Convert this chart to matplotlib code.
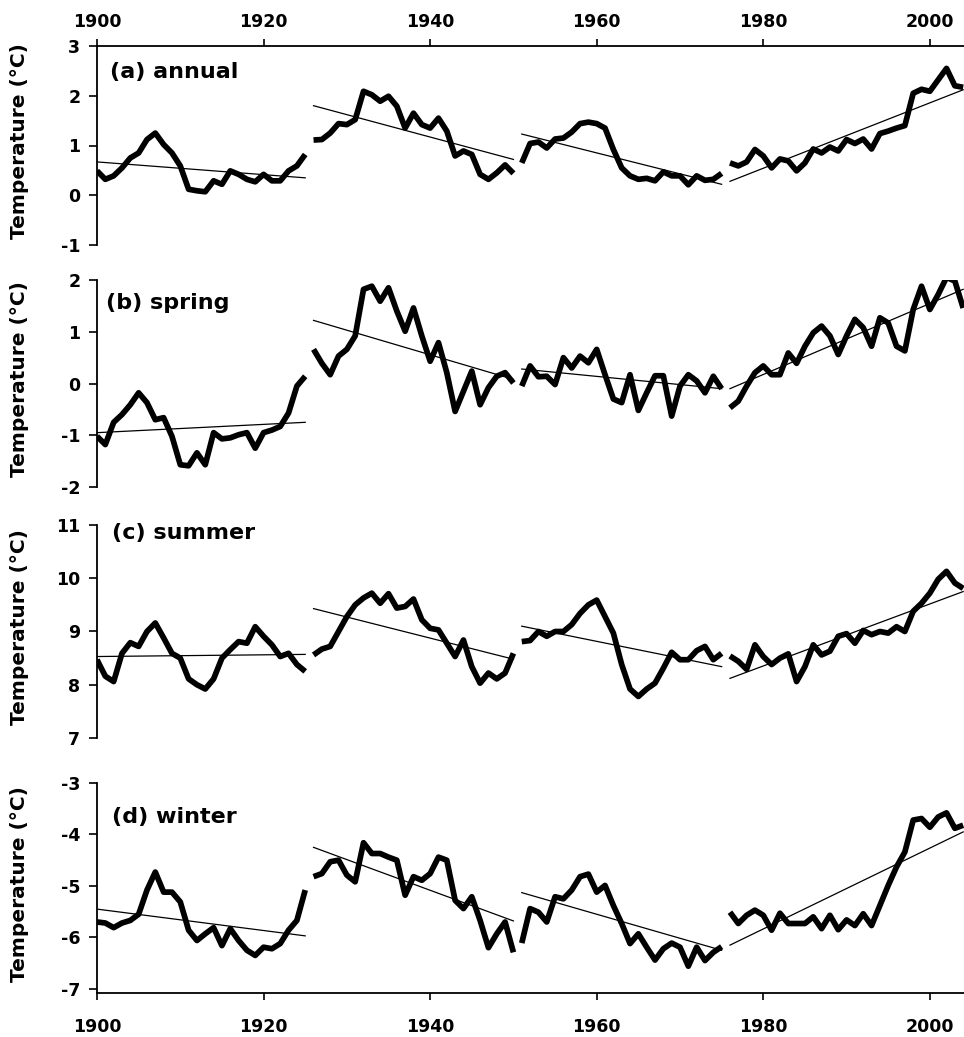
import numpy as np
import matplotlib
matplotlib.use("Agg")
import matplotlib.pyplot as plt

plt.rcParams['font.family'] = ['DejaVu Sans']
plt.rcParams['font.weight'] = 'bold'
plt.rcParams['axes.unicode_minus'] = False

years = np.arange(1900, 2005)
segments = [(1900, 1925), (1926, 1950), (1951, 1975), (1976, 2004)]

annual = [0.49, 0.32, 0.39, 0.55, 0.75, 0.85, 1.12, 1.25, 1.02, 0.85, 0.59, 0.12, 0.09, 0.07, 0.29, 0.22,
          0.49, 0.42, 0.32, 0.27, 0.42, 0.29, 0.29, 0.49, 0.59, 0.82,
          1.11, 1.12, 1.25, 1.44, 1.42, 1.52, 2.09, 2.02, 1.89, 1.99, 1.79, 1.35, 1.65, 1.42, 1.35, 1.55,
          1.29, 0.79, 0.89, 0.82, 0.42, 0.32, 0.45, 0.61, 0.44,
          0.65, 1.04, 1.07, 0.95, 1.13, 1.15, 1.27, 1.44, 1.47, 1.44, 1.35, 0.92, 0.55, 0.39, 0.32, 0.34,
          0.29, 0.47, 0.39, 0.39, 0.21, 0.39, 0.30, 0.32, 0.44,
          0.65, 0.59, 0.67, 0.92, 0.79, 0.55, 0.73, 0.69, 0.49, 0.65, 0.93, 0.85, 0.97, 0.89, 1.12, 1.04,
          1.13, 0.93, 1.24, 1.29, 1.35, 1.40, 2.05, 2.13, 2.09, 2.32, 2.55, 2.20, 2.17]

spring = [-1.02, -1.18, -0.75, -0.60, -0.41, -0.18, -0.37, -0.70, -0.66, -1.02, -1.57, -1.59, -1.34, -1.57,
          -0.95, -1.07, -1.05, -0.99, -0.95, -1.25, -0.95, -0.90, -0.83, -0.57, -0.05, 0.14,
          0.66, 0.39, 0.17, 0.53, 0.66, 0.92, 1.82, 1.88, 1.59, 1.85, 1.40, 1.01, 1.46, 0.92, 0.43, 0.79,
          0.21, -0.54, -0.15, 0.24, -0.41, -0.08, 0.14, 0.21, 0.01,
          -0.05, 0.34, 0.13, 0.14, -0.02, 0.50, 0.30, 0.53, 0.40, 0.66, 0.17, -0.30, -0.37, 0.17, -0.52,
          -0.18, 0.15, 0.15, -0.63, -0.05, 0.17, 0.05, -0.18, 0.14, -0.10,
          -0.47, -0.34, -0.05, 0.21, 0.34, 0.17, 0.17, 0.59, 0.39, 0.72, 0.98, 1.11, 0.92, 0.56, 0.92, 1.24,
          1.08, 0.72, 1.27, 1.17, 0.72, 0.63, 1.43, 1.88, 1.43, 1.72, 2.05, 1.98, 1.46]

summer = [8.47, 8.16, 8.06, 8.59, 8.79, 8.72, 9.00, 9.16, 8.88, 8.59, 8.50, 8.11, 8.00, 7.92, 8.11, 8.50,
          8.66, 8.81, 8.78, 9.09, 8.91, 8.75, 8.53, 8.59, 8.38, 8.25,
          8.56, 8.67, 8.72, 9.00, 9.28, 9.50, 9.63, 9.72, 9.53, 9.71, 9.44, 9.47, 9.61, 9.22, 9.06, 9.03,
          8.78, 8.53, 8.84, 8.34, 8.03, 8.22, 8.11, 8.22, 8.59,
          8.81, 8.83, 9.00, 8.91, 9.00, 9.00, 9.13, 9.34, 9.50, 9.59, 9.28, 8.97, 8.38, 7.92, 7.78, 7.92,
          8.03, 8.31, 8.61, 8.47, 8.47, 8.64, 8.72, 8.47, 8.59,
          8.54, 8.44, 8.29, 8.75, 8.53, 8.38, 8.50, 8.58, 8.06, 8.34, 8.75, 8.56, 8.63, 8.91, 8.96, 8.78,
          9.02, 8.94, 9.00, 8.97, 9.09, 9.00, 9.38, 9.53, 9.72, 9.98, 10.13, 9.91, 9.81]

winter = [-5.70, -5.72, -5.81, -5.72, -5.67, -5.55, -5.08, -4.73, -5.12, -5.12, -5.31, -5.86, -6.06, -5.93,
          -5.81, -6.16, -5.83, -6.06, -6.25, -6.35, -6.19, -6.22, -6.12, -5.86, -5.67, -5.08,
          -4.82, -4.76, -4.53, -4.50, -4.79, -4.92, -4.16, -4.37, -4.37, -4.44, -4.50, -5.18, -4.82, -4.89,
          -4.76, -4.44, -4.50, -5.28, -5.44, -5.21, -5.67, -6.20, -5.93, -5.70, -6.29,
          -6.11, -5.44, -5.51, -5.70, -5.21, -5.25, -5.08, -4.82, -4.77, -5.12, -4.99, -5.38, -5.73, -6.12,
          -5.93, -6.19, -6.44, -6.22, -6.11, -6.19, -6.56, -6.19, -6.45, -6.29, -6.18,
          -5.51, -5.73, -5.57, -5.47, -5.57, -5.86, -5.53, -5.73, -5.73, -5.73, -5.60, -5.83, -5.57, -5.85,
          -5.66, -5.77, -5.54, -5.77, -5.38, -4.99, -4.63, -4.34, -3.72, -3.69, -3.86, -3.66, -3.58, -3.88, -3.82]

# trend line (start, end) values for each segment
annual_trend = [(0.67, 0.35), (1.80, 0.72), (1.23, 0.22), (0.28, 2.12)]
spring_trend = [(-0.95, -0.75), (1.22, 0.08), (0.28, -0.10), (-0.10, 1.82)]
summer_trend = [(8.53, 8.57), (9.43, 8.48), (9.10, 8.34), (8.12, 9.75)]
winter_trend = [(-5.45, -5.97), (-4.25, -5.68), (-5.13, -6.25), (-6.15, -3.95)]

panel_labels = ['(a) annual', '(b) spring', '(c) summer', '(d) winter']
ylims = [(-1, 3), (-2, 2), (7, 11), (-7.08, -3)]
yticks = [[-1, 0, 1, 2, 3], [-2, -1, 0, 1, 2], [7, 8, 9, 10, 11], [-7, -6, -5, -4, -3]]
xticks = [1900, 1920, 1940, 1960, 1980, 2000]

series = [annual, spring, summer, winter]
trends = [annual_trend, spring_trend, summer_trend, winter_trend]

W, H = 964, 1037
fig = plt.figure(figsize=(W / 100, H / 100), dpi=100)

# pixel rows (top, bottom) of each panel
rows = [(46, 245), (280, 487), (525, 738), (783, 993)]
label_pos = [(0.015, 0.869), (0.010, 0.889), (0.017, 0.962), (0.017, 0.838)]
left_px = 97

for i in range(4):
    top, bot = rows[i]
    ax = fig.add_axes([left_px / W, 1 - bot / H, 1 - left_px / W, (bot - top) / H])
    vals = np.array(series[i])
    for (s, e), (t0, t1) in zip(segments, trends[i]):
        m = (years >= s) & (years <= e)
        ax.plot(years[m], vals[m], color='black', lw=4.1, solid_joinstyle='round',
                solid_capstyle='butt', zorder=3)
        ax.plot([s, e], [t0, t1], color='black', lw=0.9, zorder=2)
    ax.set_xlim(1900, 2004.1)
    ax.set_ylim(*ylims[i])
    ax.set_yticks(yticks[i])
    ax.set_yticklabels([str(v) for v in yticks[i]], fontsize=12.5, fontweight='bold')
    ax.tick_params(axis='y', direction='out', length=6, width=1.2, pad=6)
    ax.spines['right'].set_visible(False)
    ax.spines['left'].set_linewidth(1.3)
    ax.set_ylabel('Temperature (°C)', fontsize=14.5, fontweight='bold')
    ax.yaxis.set_label_coords(-0.079, 0.52)
    ax.text(label_pos[i][0], label_pos[i][1], panel_labels[i], transform=ax.transAxes,
            fontsize=16, fontweight='bold', ha='left', va='center')
    ax.set_xticks(xticks)
    if i == 0:
        ax.spines['bottom'].set_visible(False)
        ax.spines['top'].set_linewidth(1.3)
        ax.xaxis.tick_top()
        ax.set_xticklabels([str(v) for v in xticks], fontsize=12.5, fontweight='bold')
        ax.tick_params(axis='x', direction='out', length=5, width=1.2, pad=6)
    elif i == 3:
        ax.spines['top'].set_visible(False)
        ax.spines['bottom'].set_linewidth(1.3)
        ax.set_xticklabels([str(v) for v in xticks], fontsize=12.5, fontweight='bold')
        ax.tick_params(axis='x', direction='out', length=5, width=1.2, pad=13)
    else:
        ax.spines['top'].set_visible(False)
        ax.spines['bottom'].set_visible(False)
        ax.tick_params(axis='x', bottom=False, labelbottom=False)
    ax.set_facecolor('none')

fig.savefig('out.png', dpi=100)
